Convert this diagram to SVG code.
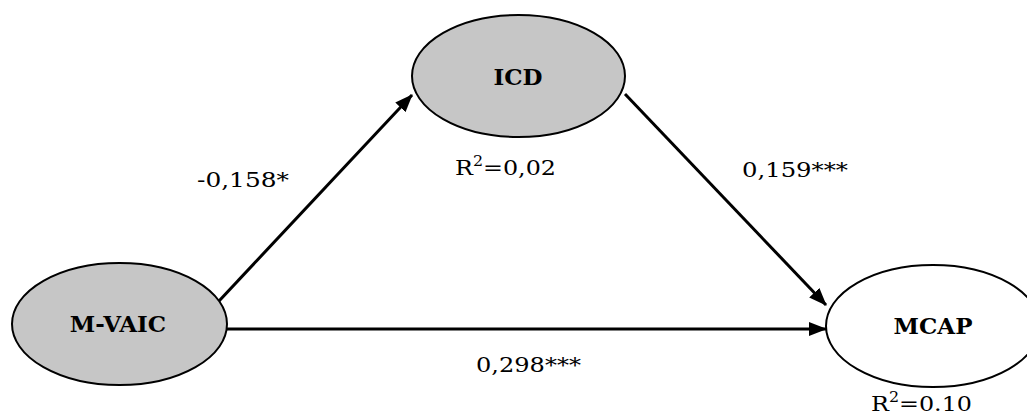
<svg xmlns="http://www.w3.org/2000/svg" width="1027" height="414" viewBox="0 0 1027 414">
<style>
.node{stroke:#000;stroke-width:2}
.grey{fill:#c6c6c6}
.white{fill:#fff}
.nl{font-family:"DejaVu Serif","Liberation Serif",serif;font-weight:bold;font-size:23px;text-anchor:middle;fill:#000}
.lb{font-family:"DejaVu Serif","Liberation Serif",serif;font-size:21px;fill:#000}
.sup{font-size:14px}
.edge{stroke:#000;stroke-width:3;fill:none;marker-end:url(#ah)}
</style>
<defs>
<marker id="ah" markerUnits="userSpaceOnUse" markerWidth="18" markerHeight="14" refX="17" refY="7" orient="auto">
<path d="M0,0 L18,7 L0,14 Z" fill="#000"/>
</marker>
</defs>
<rect width="1027" height="414" fill="#fff"/>
<g id="connectors">
<line class="edge" x1="219" y1="301" x2="412" y2="95"/>
<line class="edge" x1="625" y1="94" x2="826" y2="305"/>
<line class="edge" x1="227" y1="329" x2="826" y2="329"/>
</g>
<g id="node-icd">
<ellipse class="node grey" cx="518.5" cy="76" rx="106.5" ry="61"/>
<text class="nl" x="518" y="85">ICD</text>
</g>
<g id="node-mvaic">
<ellipse class="node grey" cx="119.5" cy="324" rx="107.5" ry="61"/>
<text class="nl" x="118" y="332">M-VAIC</text>
</g>
<g id="node-mcap">
<ellipse class="node white" cx="933" cy="326" rx="107" ry="61"/>
<text class="nl" x="933" y="334">MCAP</text>
</g>
<g id="labels">
<text class="lb" x="197" y="187" textLength="92" lengthAdjust="spacingAndGlyphs">-0,158*</text>
<text class="lb" x="742" y="177" textLength="106" lengthAdjust="spacingAndGlyphs">0,159***</text>
<text class="lb" x="476" y="372" textLength="105" lengthAdjust="spacingAndGlyphs">0,298***</text>
<text class="lb" x="455" y="175" textLength="101" lengthAdjust="spacingAndGlyphs">R<tspan class="sup" dy="-9">2</tspan><tspan dy="9">=0,02</tspan></text>
<text class="lb" x="871" y="411" textLength="101" lengthAdjust="spacingAndGlyphs">R<tspan class="sup" dy="-9">2</tspan><tspan dy="9">=0.10</tspan></text>
</g>
</svg>
